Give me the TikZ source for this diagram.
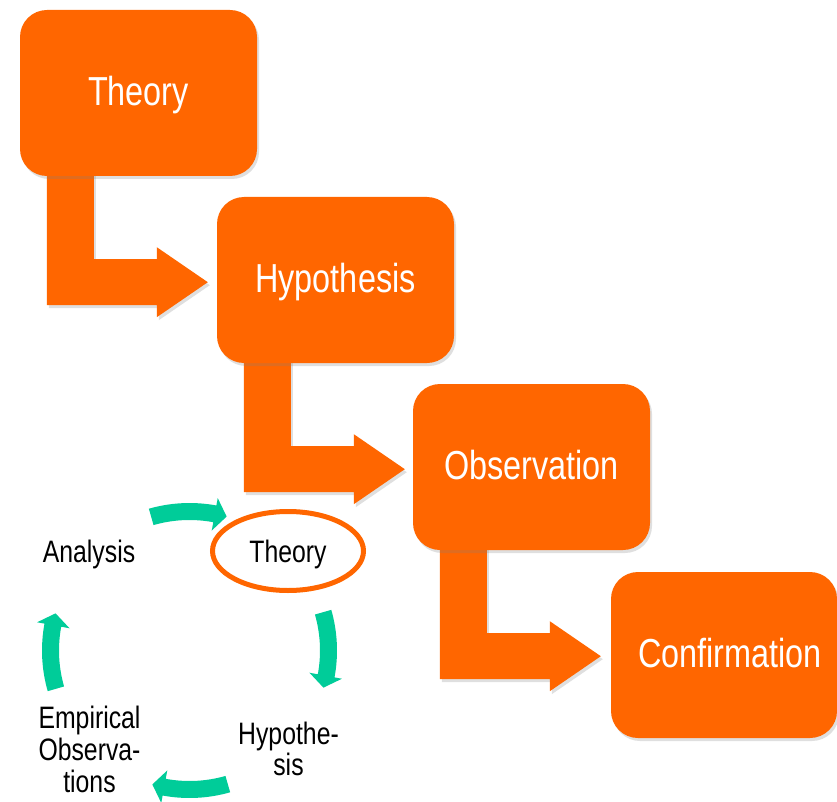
\documentclass[tikz,border=0pt]{standalone}
\usepackage{fontspec}
\setmainfont{Liberation Sans}
\newfontfamily\narrowfont[FakeStretch=0.8]{Liberation Sans}
\usetikzlibrary{shapes.geometric,shadows,calc}
\definecolor{flow}{HTML}{FF6600}
\definecolor{cycgreen}{HTML}{00CC99}
\pgfdeclarelayer{bg}
\pgfsetlayers{bg,main}
% bent block arrow leaving the bottom of box #1
\newcommand{\bentarrow}[1]{%
  \fill[flowarrow] ($(#1.south west)+(27,-4)$) -- ($(#1.south west)+(27,129)$)
    -- ($(#1.south west)+(137,129)$) -- ($(#1.south west)+(137,141)$)
    -- ($(#1.south west)+(188,106)$) -- ($(#1.south west)+(137,71)$)
    -- ($(#1.south west)+(137,83)$) -- ($(#1.south west)+(74,83)$)
    -- ($(#1.south west)+(74,-4)$) -- cycle;}
% curved green block arrow from angle #1 to tip angle #2 around the cycle centre
\newcommand{\cycarrow}[2]{%
  \fill[cycgreen]
    plot[domain=#1:#2-5, samples=18] ({189.5+147.5*cos(\x)},{650.5+147.5*sin(\x)})
    -- ({189.5+155*cos(#2-5)},{650.5+155*sin(#2-5)})
    -- ({189.5+139*cos(#2)},{650.5+139*sin(#2)})
    -- ({189.5+122*cos(#2-5)},{650.5+122*sin(#2-5)})
    -- plot[domain=#2-5:#1, samples=18] ({189.5+130.5*cos(\x)},{650.5+130.5*sin(\x)})
    -- cycle;}
\begin{document}
\begin{tikzpicture}[x=1pt,y=-1pt,
  flowbox/.style={rectangle, rounded corners=27pt, fill=flow,
    minimum width=237pt, minimum height=166pt, inner sep=0pt, text=white,
    font=\narrowfont\fontsize{40.5}{44}\selectfont, text height=28pt, text depth=3pt,
    drop shadow={opacity=0.25, shadow xshift=2pt, shadow yshift=-3pt}},
  flowarrow/.style={fill=flow,
    drop shadow={opacity=0.25, shadow xshift=2pt, shadow yshift=-3pt}},
  cyctext/.style={inner sep=0pt, text=black,
    font=\narrowfont\fontsize{31}{31}\selectfont}]
\useasboundingbox (0,0) rectangle (837,802);

% flow boxes
\node[flowbox] (b1) at (138.5,93) {Theory};
\node[flowbox] (b2) at (335.5,280) {Hypothesis};
\node[flowbox] (b3) at (531.5,467) {Observation};
\node[flowbox, minimum width=226pt] (b4) at (724,655) {\hspace*{12pt}Confirmation};

\begin{pgfonlayer}{bg}
  \bentarrow{b1}
  \bentarrow{b2}
  \bentarrow{b3}
\end{pgfonlayer}

% cycle
\coordinate (cyc) at (189.5,650.5);
\node[cyctext, anchor=base] (ana) at (89,562) {Analysis};
\node[ellipse, draw=flow, line width=5pt, minimum width=151pt, minimum height=79pt,
  cyctext, text height=22pt, text depth=0pt] (th) at (288,551) {Theory};
\node[cyctext, anchor=north, align=center] (hy) at (288.5,722) {Hypothe-\\sis};
\node[cyctext, anchor=north, align=center,
  font=\narrowfont\fontsize{31}{32}\selectfont] (emp) at (89.5,705.5) {Empirical\\Observa-\\tions};

\cycarrow{-106}{-74.5}
\cycarrow{-16}{15.5}
\cycarrow{74}{105.5}
\cycarrow{164}{195.5}
\end{tikzpicture}
\end{document}
